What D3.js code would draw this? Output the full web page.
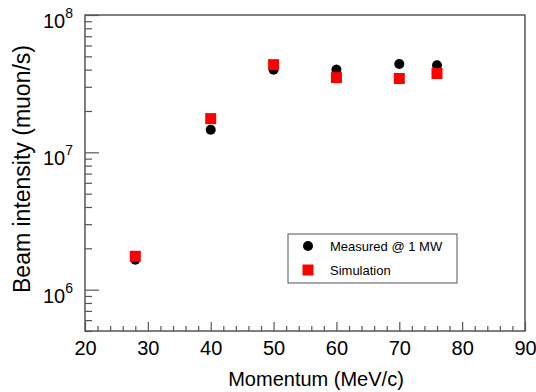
<!DOCTYPE html>
<html>
<head>
<meta charset="utf-8">
<script src="https://cdn.jsdelivr.net/npm/d3@7"></script>
<style>
  body { margin: 0; background: #fff; }
  text { font-family: "Liberation Sans", Arial, sans-serif; }
</style>
</head>
<body>
<svg id="chart" width="536" height="392"></svg>
<script>
var momentum = [28, 40, 50, 60, 70, 76];
var measured = [1.65e6, 1.46e7, 4.0e7, 4.0e7, 4.4e7, 4.3e7];
var measuredErr = [0.08e6, 0.05e7, 0.15e7, 0.35e7, 0.12e7, 0.2e7];
var simulation = [1.75e6, 1.76e7, 4.35e7, 3.5e7, 3.45e7, 3.75e7];
var xTicks = [20, 30, 40, 50, 60, 70, 80, 90];
var yMajorTicks = [1e6, 1e7, 1e8];
var yExponents = ["6", "7", "8"];
var legendLabels = ["Measured @ 1 MW", "Simulation"];

var svg = d3.select("#chart"),
  margin = { top: 15, right: 11, bottom: 61, left: 85 },
  width = +svg.attr("width") - margin.left - margin.right,
  height = +svg.attr("height") - margin.top - margin.bottom;

var x = d3.scaleLinear().domain([20, 90]).range([0, width]),
  y = d3.scaleLog().domain([5e5, 1e8]).range([height, 0]);

var g = svg.append("g")
  .attr("transform", "translate(" + margin.left + "," + margin.top + ")");

// minor ticks: every 2 on x, 2..9 per decade on y
var xMinor = d3.range(20, 91, 2).filter(function (v) { return v % 10 !== 0; });
var yMinor = [];
[1e5, 1e6, 1e7].forEach(function (d) {
  d3.range(2, 10).forEach(function (k) {
    var v = k * d;
    if (v >= 5e5 && v <= 1e8) yMinor.push(v);
  });
});

g.append("g")
  .attr("class", "axis axis--x-minor")
  .attr("transform", "translate(0," + height + ")")
  .call(d3.axisBottom(x).tickValues(xMinor).tickSize(-5).tickFormat(""));

g.append("g")
  .attr("class", "axis axis--x")
  .attr("transform", "translate(0," + height + ")")
  .call(d3.axisBottom(x).tickValues(xTicks).tickSize(-9).tickFormat(d3.format("d")))
  .selectAll("text")
  .attr("y", 10)
  .attr("font-size", 20)
  .attr("fill", "#000");

g.append("g")
  .attr("class", "axis axis--y-minor")
  .call(d3.axisLeft(y).tickValues(yMinor).tickSize(-7).tickFormat(""));

g.append("g")
  .attr("class", "axis axis--y")
  .call(d3.axisLeft(y).tickValues(yMajorTicks).tickSize(-14).tickFormat(""));

g.selectAll(".axis path.domain").remove();
g.selectAll(".axis line").attr("stroke", "#555").attr("stroke-width", 1.2);

// y labels as 10^n
var yLab = g.append("g").attr("class", "ylabels");
yMajorTicks.forEach(function (v, i) {
  var t = yLab.append("text")
    .attr("x", -12)
    .attr("y", y(v) + 13)
    .attr("text-anchor", "end")
    .attr("font-size", 20);
  t.append("tspan").text("10");
  t.append("tspan").attr("dy", -10).attr("font-size", 14).text(yExponents[i]);
});

// frame
g.append("rect")
  .attr("x", 0).attr("y", 0)
  .attr("width", width).attr("height", height)
  .attr("fill", "none")
  .attr("stroke", "#555")
  .attr("stroke-width", 1.5);

// axis titles
svg.append("text")
  .attr("x", 316)
  .attr("y", 386)
  .attr("text-anchor", "middle")
  .attr("font-size", 20)
  .text("Momentum (MeV/c)");

svg.append("text")
  .attr("transform", "translate(30,169) rotate(-90)")
  .attr("text-anchor", "middle")
  .attr("font-size", 23)
  .text("Beam intensity (muon/s)");

var data = momentum.map(function (m, i) {
  return { p: m, meas: measured[i], err: measuredErr[i], sim: simulation[i] };
});

// measured error bars
g.selectAll(".err")
  .data(data)
  .enter().append("line")
  .attr("class", "err")
  .attr("x1", function (d) { return x(d.p); })
  .attr("x2", function (d) { return x(d.p); })
  .attr("y1", function (d) { return y(d.meas + d.err); })
  .attr("y2", function (d) { return y(d.meas - d.err); })
  .attr("stroke", "#000")
  .attr("stroke-width", 1.5);

g.selectAll(".meas")
  .data(data)
  .enter().append("circle")
  .attr("class", "meas")
  .attr("cx", function (d) { return x(d.p); })
  .attr("cy", function (d) { return y(d.meas); })
  .attr("r", 5)
  .attr("fill", "#000");

g.selectAll(".sim")
  .data(data)
  .enter().append("rect")
  .attr("class", "sim")
  .attr("x", function (d) { return x(d.p) - 5.5; })
  .attr("y", function (d) { return y(d.sim) - 5.5; })
  .attr("width", 11)
  .attr("height", 11)
  .attr("fill", "#ff0000");

// legend
var legend = svg.append("g").attr("transform", "translate(288,234)");
legend.append("rect")
  .attr("width", 169).attr("height", 49)
  .attr("fill", "#fff")
  .attr("stroke", "#555")
  .attr("stroke-width", 1);
legend.append("circle").attr("cx", 20).attr("cy", 12).attr("r", 5).attr("fill", "#000");
legend.append("rect").attr("x", 14.5).attr("y", 30.5).attr("width", 11).attr("height", 11).attr("fill", "#ff0000");
legendLabels.forEach(function (l, i) {
  legend.append("text")
    .attr("x", 42)
    .attr("y", 12 + i * 24)
    .attr("dy", "0.35em")
    .attr("font-size", 13)
    .text(l);
});
</script>
</body>
</html>
